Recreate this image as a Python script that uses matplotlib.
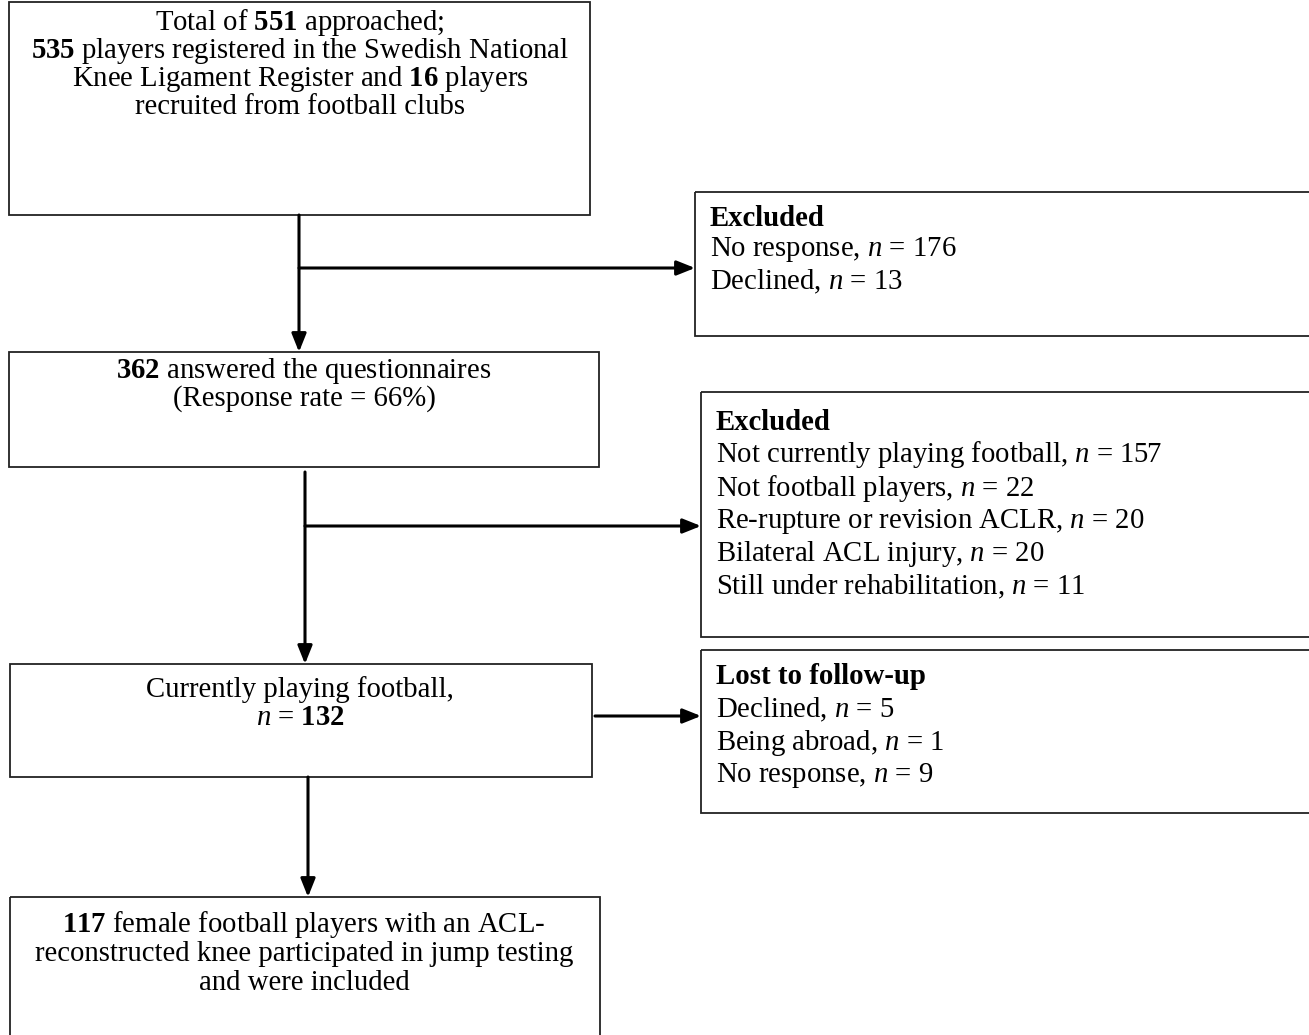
import matplotlib
matplotlib.use("Agg")
import matplotlib.pyplot as plt
from matplotlib.patches import Rectangle

plt.rcParams["font.family"] = ["Liberation Serif", "DejaVu Serif"]
plt.rcParams["mathtext.fontset"] = "custom"
plt.rcParams["mathtext.rm"] = "Liberation Serif"
plt.rcParams["mathtext.it"] = "Liberation Serif:italic"
plt.rcParams["mathtext.bf"] = "Liberation Serif:bold"

# flow chart content
approached_lines = [
    r"Total of $\mathbf{551}$ approached;",
    r"$\mathbf{535}$ players registered in the Swedish National",
    r"Knee Ligament Register and $\mathbf{16}$ players",
    "recruited from football clubs",
]
answered_lines = [
    r"$\mathbf{362}$ answered the questionnaires",
    "(Response rate = 66%)",
]
playing_lines = [
    "Currently playing football,",
    r"$n$ = $\mathbf{132}$",
]
included_lines = [
    r"$\mathbf{117}$ female football players with an ACL-",
    "reconstructed knee participated in jump testing",
    "and were included",
]
excluded1_title = "Excluded"
excluded1_lines = [
    r"No response, $n$ = 176",
    r"Declined, $n$ = 13",
]
excluded2_title = "Excluded"
excluded2_lines = [
    r"Not currently playing football, $n$ = 157",
    r"Not football players, $n$ = 22",
    r"Re-rupture or revision ACLR, $n$ = 20",
    r"Bilateral ACL injury, $n$ = 20",
    r"Still under rehabilitation, $n$ = 11",
]
lost_title = "Lost to follow-up"
lost_lines = [
    r"Declined, $n$ = 5",
    r"Being abroad, $n$ = 1",
    r"No response, $n$ = 9",
]

W, H = 1309, 1035
fig = plt.figure(figsize=(W / 100, H / 100), dpi=100)
ax = fig.add_axes([0, 0, 1, 1])
ax.set_xlim(0, W)
ax.set_ylim(H, 0)
ax.axis("off")

FS = 20.7
BOX_LW = 1.3
ARROW_LW = 2.2
EDGE = "#222222"


def box(x0, y0, x1, y1):
    ax.add_patch(Rectangle((x0, y0), x1 - x0, y1 - y0, fill=False,
                           edgecolor=EDGE, linewidth=BOX_LW, clip_on=True))


def centered(lines, cx, y_first, step):
    for i, line in enumerate(lines):
        ax.text(cx, y_first + i * step, line, ha="center", va="center", fontsize=FS)


def listing(title, lines, x, y_first, step):
    ax.text(x, y_first, title, ha="left", va="center", fontsize=FS, fontweight="bold")
    for i, line in enumerate(lines):
        ax.text(x, y_first + (i + 1) * step, line, ha="left", va="center", fontsize=FS)


def arrow(x0, y0, x1, y1):
    ax.annotate("", xy=(x1, y1), xytext=(x0, y0),
                arrowprops=dict(arrowstyle="-|>,head_length=0.55,head_width=0.22",
                                mutation_scale=20, lw=ARROW_LW, color="black",
                                shrinkA=0, shrinkB=0))


# main column
box(9, 2, 590, 215)
centered(approached_lines, 300, 23, 28)
box(9, 352, 599, 467)
centered(answered_lines, 304, 371, 28)
box(10, 664, 592, 777)
centered(playing_lines, 300, 690, 28)
box(10, 897, 600, 1045)
centered(included_lines, 304, 925, 29)

# side boxes
box(695, 192, 1330, 336)
listing(excluded1_title, excluded1_lines, 710, 218, 32)
box(701, 392, 1330, 637)
listing(excluded2_title, excluded2_lines, 716, 422, 33)
box(701, 650, 1330, 813)
listing(lost_title, lost_lines, 716, 677, 33)

# arrows
arrow(299, 215, 299, 352)
arrow(299, 268, 695, 268)
arrow(305, 472, 305, 664)
arrow(305, 526, 701, 526)
arrow(595, 716, 701, 716)
arrow(308, 777, 308, 897)

fig.savefig("out.png", dpi=100)
